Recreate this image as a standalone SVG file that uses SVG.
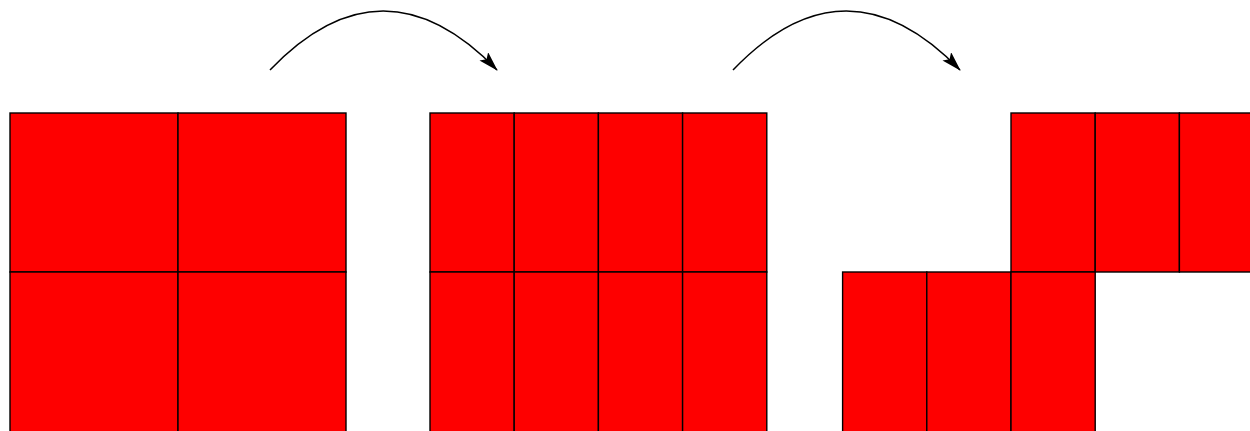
<svg xmlns="http://www.w3.org/2000/svg" width="1250" height="431" viewBox="0 0 1250 431">
<style>
.c{fill:#fe0000;stroke:#000;stroke-width:1.4}
.a{fill:none;stroke:#000;stroke-width:1.5}
</style>
<defs>
<marker id="ah" viewBox="0 0 20 12" refX="19" refY="6" markerWidth="20" markerHeight="12" markerUnits="userSpaceOnUse" orient="auto">
<path d="M0,0 L20,6 L0,12 L4,6 Z" fill="#000"/>
</marker>
</defs>
<rect width="1250" height="431" fill="#fff"/>
<g id="square1">
<rect class="c" x="10" y="113" width="168" height="159"/>
<rect class="c" x="178" y="113" width="168" height="159"/>
<rect class="c" x="10" y="272" width="168" height="170"/>
<rect class="c" x="178" y="272" width="168" height="170"/>
</g>
<g id="square2">
<rect class="c" x="430" y="113" width="84.2" height="159"/>
<rect class="c" x="514.2" y="113" width="84.2" height="159"/>
<rect class="c" x="598.4" y="113" width="84.2" height="159"/>
<rect class="c" x="682.6" y="113" width="84.2" height="159"/>
<rect class="c" x="430" y="272" width="84.2" height="170"/>
<rect class="c" x="514.2" y="272" width="84.2" height="170"/>
<rect class="c" x="598.4" y="272" width="84.2" height="170"/>
<rect class="c" x="682.6" y="272" width="84.2" height="170"/>
</g>
<g id="shape3">
<rect class="c" x="1011" y="113" width="84.2" height="159"/>
<rect class="c" x="1095.2" y="113" width="84.2" height="159"/>
<rect class="c" x="1179.4" y="113" width="84.2" height="159"/>
<rect class="c" x="842.6" y="272" width="84.2" height="170"/>
<rect class="c" x="926.8" y="272" width="84.2" height="170"/>
<rect class="c" x="1011" y="272" width="84.2" height="170"/>
</g>
<g id="connectors">
<path class="a" d="M270,70 Q383,-48 497,70" marker-end="url(#ah)"/>
<path class="a" d="M733,70 Q846,-48 960,70" marker-end="url(#ah)"/>
</g>
</svg>
